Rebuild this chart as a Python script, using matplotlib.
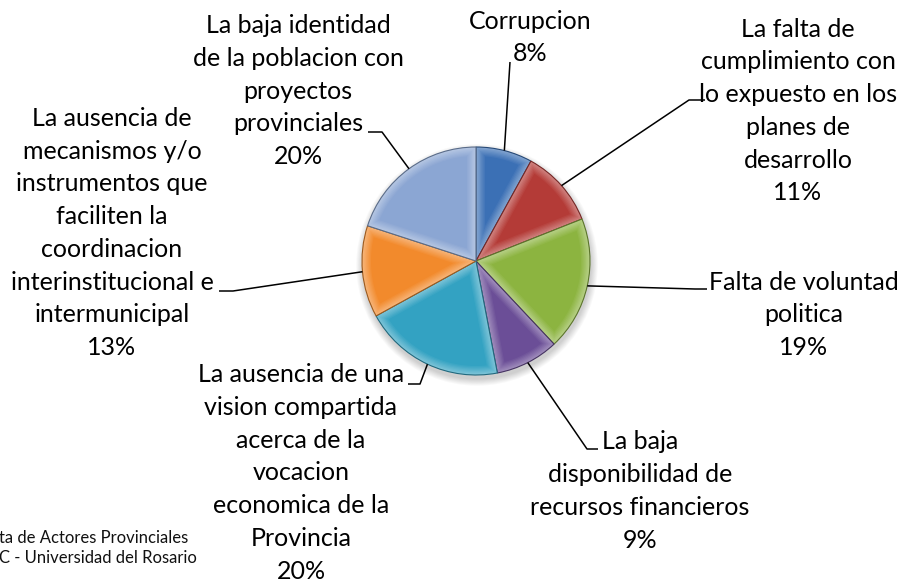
import numpy as np
import matplotlib.pyplot as plt
from matplotlib.patches import Polygon, Circle
from matplotlib.colors import to_rgb

plt.rcParams['font.family'] = ['Lato', 'DejaVu Sans']

# Datos del gráfico
etiquetas = [
    'Corrupcion',
    'La falta de\ncumplimiento con\nlo expuesto en los\nplanes de\ndesarrollo',
    'Falta de voluntad\npolitica',
    'La baja\ndisponibilidad de\nrecursos financieros',
    'La ausencia de una\nvision compartida\nacerca de la\nvocacion\neconomica de la\nProvincia',
    'La ausencia de\nmecanismos y/o\ninstrumentos que\nfaciliten la\ncoordinacion\ninterinstitucional e\nintermunicipal',
    'La baja identidad\nde la poblacion con\nproyectos\nprovinciales',
]
porcentajes = [8, 11, 19, 9, 20, 13, 20]
colores = ['#3B70B5', '#B43B37', '#8CB440', '#6B4E97', '#33A2C2', '#F28A2C', '#8BA6D3']

fuente = ['ta de Actores Provinciales', 'C - Universidad del Rosario']

# Posición (centro x, centro y) de cada bloque de texto, en píxeles
pos_etiquetas = [(530, 37.5), (798, 111), (804, 315), (640, 491),
                 (301, 473), (112, 233), (298, 91)]
# Puntos de la línea guía del lado de la etiqueta
guias = [
    [(510, 62)],
    [(705, 100), (689, 100)],
    [(707, 289), (695, 289)],
    [(598, 449), (587, 449)],
    [(408, 384), (420, 384)],
    [(219, 291), (233, 291)],
    [(368, 132), (382, 132)],
]

W, H = 904, 582
cx, cy, R = 476, 261, 114
paso = 32.8


def mezcla(c1, c2, t):
    a, b = np.array(to_rgb(c1)), np.array(to_rgb(c2))
    return tuple(a + (b - a) * t)


def recorte(t1, t2, d, n=80):
    """Polígono de la porción reducida d píxeles hacia adentro."""
    a1, a2 = np.radians(t1), np.radians(t2)
    rr = R - d
    da = np.arctan2(d, np.sqrt(rr ** 2 - d ** 2))
    if a2 - da <= a1 + da:
        return None
    mitad = (a2 - a1) / 2
    dist = d / np.sin(mitad) if mitad < np.pi / 2 else d
    bis = (a1 + a2) / 2
    vert = [(cx + dist * np.cos(bis), cy + dist * np.sin(bis))]
    ang = np.linspace(a1 + da, a2 - da, n)
    vert += list(zip(cx + rr * np.cos(ang), cy + rr * np.sin(ang)))
    return vert


fig = plt.figure(figsize=(W / 100, H / 100), dpi=100)
ax = fig.add_axes([0, 0, 1, 1])

# sombra suave debajo del pastel
for k in range(8):
    ax.add_patch(Circle((cx + 1, cy + 4), R + 0.5 + k * 0.9, color='black',
                        alpha=0.025, lw=0, zorder=0.5))

# eje y invertido: startangle=-90 y counterclock=True dan sentido horario desde arriba
wedges, _ = ax.pie(porcentajes, colors=colores, startangle=-90, counterclock=True,
                   center=(cx, cy), radius=R,
                   wedgeprops=dict(linewidth=0.8, zorder=2))

# efecto de bisel: borde claro que se funde hacia el color base
for w, base in zip(wedges, colores):
    borde = mezcla(base, 'white', 0.35)
    w.set_facecolor(borde)
    w.set_edgecolor(mezcla(base, 'black', 0.35))
    niveles = np.linspace(1.5, 9, 7)
    for j, d in enumerate(niveles):
        v = recorte(w.theta1, w.theta2, d)
        if v is None:
            continue
        col = mezcla(borde, base, (j + 1) / len(niveles))
        ax.add_patch(Polygon(v, closed=True, facecolor=col, lw=0, zorder=3))

# líneas guía y etiquetas
for w, pts, (xc, yc), txt, pct in zip(wedges, guias, pos_etiquetas, etiquetas, porcentajes):
    ang = np.radians((w.theta1 + w.theta2) / 2)
    fin = (cx + R * np.cos(ang), cy + R * np.sin(ang))
    xs = [p[0] for p in pts] + [fin[0]]
    ys = [p[1] for p in pts] + [fin[1]]
    ax.plot(xs, ys, color='black', lw=1.1, zorder=4, solid_capstyle='butt')

    lineas = f'{txt}\n{pct}%'.split('\n')
    n = len(lineas)
    for k, linea in enumerate(lineas):
        ax.text(xc, yc + (k - (n - 1) / 2) * paso, linea, ha='center', va='center',
                fontsize=18, color='black', zorder=5)

# fuente
for k, linea in enumerate(fuente):
    ax.text(-1, 538 + k * 20, linea, ha='left', va='center', fontsize=12,
            color='#111111')

ax.set_xlim(0, W)
ax.set_ylim(H, 0)
ax.set_aspect('equal')
ax.axis('off')

fig.savefig('out.png', dpi=100, facecolor='white')
